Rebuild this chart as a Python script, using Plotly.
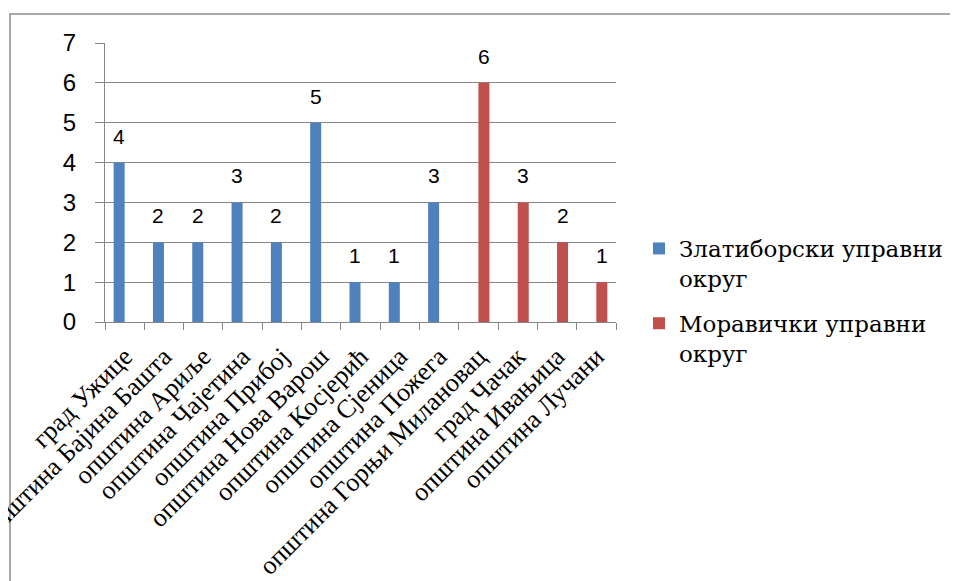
import plotly.graph_objects as go

categories = ["град Ужице", "општина Бајина Башта", "општина Ариље", "општина Чајетина",
              "општина Прибој", "општина Нова Варош", "општина Косјерић", "општина Сјеница",
              "општина Пожега", "општина Горњи Милановац", "град Чачак", "општина Ивањица",
              "општина Лучани"]
zlatiborski = [4, 2, 2, 3, 2, 5, 1, 1, 3, 0, 0, 0, 0]
moravicki = [0, 0, 0, 0, 0, 0, 0, 0, 0, 6, 3, 2, 1]
series_names = ["Златиборски управни<br>округ", "Моравички управни<br>округ"]
y_ticks = [0, 1, 2, 3, 4, 5, 6, 7]

BLUE = "#4F81BD"
RED = "#C0504D"
GRID = "#868686"

fig = go.Figure()
fig.add_trace(go.Bar(x=categories, y=zlatiborski, name=series_names[0], marker_color=BLUE,
                     marker_line_width=0, legendgroup="z"))
fig.add_trace(go.Bar(x=categories, y=moravicki, name=series_names[1], marker_color=RED,
                     marker_line_width=0, legendgroup="m"))

annotations = []
for vals, shift in ((zlatiborski, -5.5), (moravicki, 5.5)):
    for c, v in zip(categories, vals):
        if v:
            annotations.append(dict(x=c, y=v, text=str(v), showarrow=False, xref="x", yref="y",
                                    xshift=shift, yshift=13, yanchor="bottom",
                                    font=dict(family="Liberation Sans", size=21, color="#000")))

# page body adds an 8px offset; compensate
OFF = 8
W, H = 958, 581
L, R, T, B = 105 - OFF, 616 - OFF, 43 - OFF, 322 - OFF
pw, ph = R - L, B - T

def px(xp):
    return (xp - OFF - L) / pw

def py(yp):
    return (B - (yp - OFF)) / ph

fig.update_layout(
    width=W, height=H,
    margin=dict(l=L, r=W - R, t=T, b=H - B, pad=0, autoexpand=False),
    paper_bgcolor="white", plot_bgcolor="white",
    barmode="group", bargap=0.44, bargroupgap=0,
    showlegend=True,
    legend=dict(x=px(639), y=py(227), xanchor="left", yanchor="top", valign="top",
                font=dict(family="DejaVu Serif", size=23, color="#000"),
                tracegroupgap=12, bgcolor="rgba(0,0,0,0)"),
    annotations=annotations,
    shapes=[dict(type="rect", xref="paper", yref="paper",
                 x0=px(10), x1=px(1100), y0=py(14), y1=py(800),
                 line=dict(color="#8c8c8c", width=1.5), layer="below")],
    xaxis=dict(type="category", showgrid=False, showline=True, linecolor=GRID, linewidth=1,
               ticks="outside", tickson="boundaries", ticklen=7, tickcolor=GRID,
               tickangle=-45, ticklabelstandoff=8, automargin=False,
               tickfont=dict(family="Liberation Serif", size=26, color="#000")),
    yaxis=dict(range=[0, 7], tickvals=y_ticks, showgrid=True, gridcolor=GRID, gridwidth=1,
               showline=True, linecolor=GRID, linewidth=1, ticks="outside", ticklen=9,
               tickcolor=GRID, ticklabelstandoff=14, zeroline=False, automargin=False,
               tickfont=dict(family="Liberation Sans", size=24, color="#000")),
)

fig.write_html("out.html")
